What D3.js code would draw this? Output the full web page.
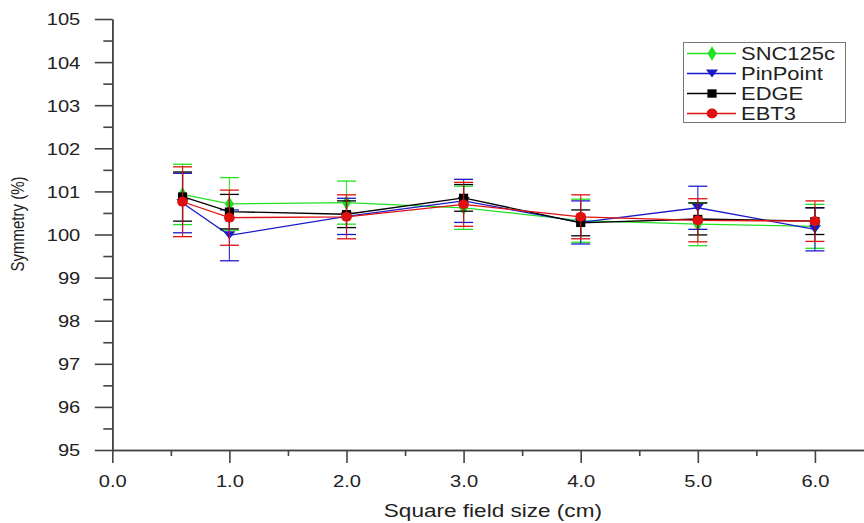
<!DOCTYPE html>
<html>
<head>
<meta charset="utf-8">
<script src="https://cdn.jsdelivr.net/npm/d3@7/dist/d3.min.js"></script>
<style>
  html, body { margin: 0; padding: 0; background: #fff; }
  svg { display: block; font-family: Arial, "Liberation Sans", sans-serif; }
</style>
</head>
<body>
<svg id="chart" width="864" height="523"></svg>
<script>
// Field sizes (cm) at which symmetry was measured
const fieldSizes = [0.6, 1, 2, 3, 4, 5, 6];

// Symmetry (%) per detector, with error bar half-widths
const sncValues   = [100.93, 100.71, 100.74, 100.62, 100.32, 100.24, 100.19];
const sncErrors   = [0.70, 0.61, 0.50, 0.50, 0.50, 0.50, 0.51];
const pinValues   = [100.73, 99.98, 100.42, 100.78, 100.28, 100.62, 100.12];
const pinErrors   = [0.69, 0.59, 0.42, 0.50, 0.50, 0.50, 0.50];
const edgeValues  = [100.88, 100.53, 100.47, 100.85, 100.27, 100.36, 100.31];
const edgeErrors  = [0.57, 0.40, 0.31, 0.31, 0.30, 0.37, 0.31];
const ebtValues   = [100.76, 100.39, 100.41, 100.70, 100.41, 100.33, 100.31];
const ebtErrors   = [0.81, 0.64, 0.51, 0.51, 0.51, 0.50, 0.47];

const seriesNames = ["SNC125c", "PinPoint", "EDGE", "EBT3"];
const yTicks = d3.range(95, 106, 1);
const yMinorTicks = d3.range(95.5, 105, 1);
const xTicks = d3.range(0, 7, 1);
const xMinorTicks = d3.range(0.5, 6.6, 1);

const series = [
  { name: seriesNames[0], values: sncValues,  errors: sncErrors,  color: "#22e022", symbol: d3.symbolDiamond, size: 60 },
  { name: seriesNames[1], values: pinValues,  errors: pinErrors,  color: "#1a1acc", symbol: "triDown",       size: 60 },
  { name: seriesNames[2], values: edgeValues, errors: edgeErrors, color: "#000000", symbol: d3.symbolSquare,  size: 70 },
  { name: seriesNames[3], values: ebtValues,  errors: ebtErrors,  color: "#e01010", symbol: d3.symbolCircle,  size: 75 }
];

// Glyphs are drawn slightly wide, like the rest of the figure
const SX = 1.22;
const axisColor = "#444";

const svg = d3.select("#chart");

const x = d3.scaleLinear().domain([0, 6.5]).range([112.3, 112.3 + 6.5 * 117.1]);
const y = d3.scaleLinear().domain([95, 105]).range([450, 19]);

// downward-pointing triangle
const triDown = {
  draw(ctx, size) {
    const s = Math.sqrt(size / 0.6);
    const h = s * 0.8;
    ctx.moveTo(-s / 2 * 1.1, -h / 2);
    ctx.lineTo(s / 2 * 1.1, -h / 2);
    ctx.lineTo(0, h / 2);
    ctx.closePath();
  }
};
function symbolPath(s) {
  const type = s.symbol === "triDown" ? triDown : s.symbol;
  return d3.symbol().type(type).size(s.size)();
}

// ---- Axes (major and minor ticks in their own groups) ----
const yAxisMajor = d3.axisLeft(y).tickValues(yTicks).tickSize(17.5).tickSizeOuter(0).tickFormat(d3.format("d"));
const yAxisMinor = d3.axisLeft(y).tickValues(yMinorTicks).tickSize(9).tickSizeOuter(0).tickFormat("");
const xAxisMajor = d3.axisBottom(x).tickValues(xTicks).tickSize(13).tickSizeOuter(0).tickFormat(d3.format(".1f"));
const xAxisMinor = d3.axisBottom(x).tickValues(xMinorTicks).tickSize(6).tickSizeOuter(0).tickFormat("");

const gyMinor = svg.append("g").attr("transform", `translate(${x(0)},0)`).call(yAxisMinor);
const gy = svg.append("g").attr("transform", `translate(${x(0)},0)`).call(yAxisMajor);
const gxMinor = svg.append("g").attr("transform", `translate(0,${y(95)})`).call(xAxisMinor);
const gx = svg.append("g").attr("transform", `translate(0,${y(95)})`).call(xAxisMajor);

[gx, gy, gxMinor, gyMinor].forEach(g => {
  g.selectAll("path.domain").attr("stroke", axisColor).attr("stroke-width", 1.6);
  g.selectAll(".tick line").attr("stroke", axisColor).attr("stroke-width", 1.6);
  g.selectAll(".tick text").attr("fill", "#222").attr("font-size", 16.5)
    .attr("font-family", "Arial, 'Liberation Sans', sans-serif");
});
gy.selectAll(".tick text")
  .attr("x", -32 / SX).attr("dy", "0.36em")
  .attr("transform", `scale(${SX},1)`);
gx.selectAll(".tick text")
  .attr("y", 37).attr("dy", 0)
  .attr("transform", `scale(${SX},1)`);

// Axis titles
svg.append("text")
  .attr("transform", `translate(${x(3.25)},517) scale(${SX},1)`)
  .attr("text-anchor", "middle")
  .attr("font-size", 18.5)
  .attr("fill", "#222")
  .text("Square field size (cm)");

svg.append("text")
  .attr("transform", `translate(24,224) scale(${SX},1) rotate(-90)`)
  .attr("text-anchor", "middle")
  .attr("font-size", 15)
  .attr("fill", "#222")
  .text("Symmetry (%)");

// ---- Data ----
const line = d3.line().x(d => x(d.x)).y(d => y(d.v));
const capHalf = 9.5;

series.forEach(s => {
  const pts = fieldSizes.map((fx, i) => ({ x: fx, v: s.values[i], e: s.errors[i] }));
  const g = svg.append("g");

  // error bars
  const eb = g.selectAll("g.err").data(pts).join("g").attr("class", "err");
  eb.append("line")
    .attr("x1", d => x(d.x)).attr("x2", d => x(d.x))
    .attr("y1", d => y(d.v - d.e)).attr("y2", d => y(d.v + d.e))
    .attr("stroke", s.color).attr("stroke-width", 1.2).attr("opacity", 0.85);
  [-1, 1].forEach(sign => {
    eb.append("line")
      .attr("x1", d => x(d.x) - capHalf).attr("x2", d => x(d.x) + capHalf)
      .attr("y1", d => y(d.v + sign * d.e)).attr("y2", d => y(d.v + sign * d.e))
      .attr("stroke", s.color).attr("stroke-width", 1.3);
  });

  // connecting line
  g.append("path").datum(pts)
    .attr("d", line)
    .attr("fill", "none")
    .attr("stroke", s.color)
    .attr("stroke-width", 1.3);

  // markers
  g.selectAll("path.mk").data(pts).join("path").attr("class", "mk")
    .attr("d", symbolPath(s))
    .attr("transform", d => `translate(${x(d.x)},${y(d.v)}) scale(1.1,1)`)
    .attr("fill", s.color);
});

// ---- Legend ----
const legend = svg.append("g");
legend.append("rect")
  .attr("x", 683.5).attr("y", 42.5).attr("width", 162).attr("height", 80)
  .attr("fill", "#fff").attr("stroke", "#777").attr("stroke-width", 1);

series.forEach((s, i) => {
  const ly = 53.5 + i * 20;
  legend.append("line")
    .attr("x1", 687).attr("x2", 736).attr("y1", ly).attr("y2", ly)
    .attr("stroke", s.color).attr("stroke-width", 1.3);
  legend.append("path")
    .attr("d", symbolPath(s))
    .attr("transform", `translate(712,${ly}) scale(1.1,1)`)
    .attr("fill", s.color);
  legend.append("text")
    .attr("transform", `translate(741,${ly}) scale(${SX},1)`)
    .attr("dy", "0.36em")
    .attr("font-size", 18)
    .attr("fill", "#222")
    .text(s.name);
});
</script>
</body>
</html>
